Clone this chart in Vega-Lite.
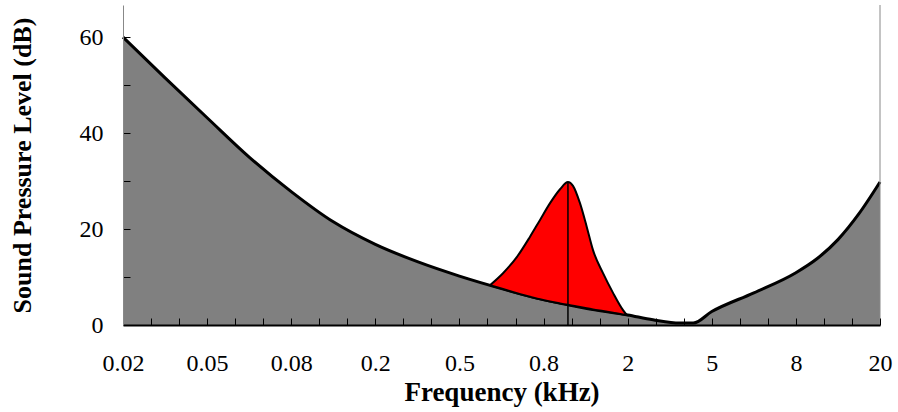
{
  "$schema": "https://vega.github.io/schema/vega-lite/v6.json",
  "width": 757,
  "height": 320,
  "autosize": {"type": "none"},
  "padding": {"left": 123, "top": 5, "right": 18, "bottom": 87},
  "background": "white",
  "config": {
    "view": {"stroke": null},
    "axis": {"labelFont": "Liberation Serif", "titleFont": "Liberation Serif", "grid": false, "labelColor": "black", "titleColor": "black", "labelOverlap": false, "tickColor": "black", "tickWidth": 1, "tickSize": -7, "titleFontWeight": "bold", "labelFontSize": 24},
    "axisX": {"labelPadding": 33, "labelFlush": false, "domainColor": "black", "domainWidth": 2, "titleFontSize": 27, "titlePadding": 4},
    "axisY": {"labelPadding": 27, "domainColor": "#888888", "domainWidth": 1, "titleFontSize": 26, "titlePadding": 44}
  },
  "datasets": {
    "lower": [
      {"pos": 0, "level": 60},
      {"pos": 0.5, "level": 51.5},
      {"pos": 1, "level": 43.2},
      {"pos": 1.5, "level": 35.0},
      {"pos": 2, "level": 27.8},
      {"pos": 2.5, "level": 21.5},
      {"pos": 3, "level": 16.8},
      {"pos": 3.5, "level": 13.2},
      {"pos": 4, "level": 10.2},
      {"pos": 4.5, "level": 7.6},
      {"pos": 5, "level": 5.3},
      {"pos": 5.5, "level": 3.5},
      {"pos": 6, "level": 2.1},
      {"pos": 6.3, "level": 1.1},
      {"pos": 6.62, "level": 0.4},
      {"pos": 6.78, "level": 0.4},
      {"pos": 7, "level": 2.8},
      {"pos": 7.5, "level": 6.7},
      {"pos": 8, "level": 10.9},
      {"pos": 8.25, "level": 13.8},
      {"pos": 8.5, "level": 17.8},
      {"pos": 8.75, "level": 23.2},
      {"pos": 9, "level": 29.8}
    ],
    "peak": [
      {"pos": 4.363, "upper": 8.3, "lower": 8.3},
      {"pos": 4.518, "upper": 10.8, "lower": 7.5},
      {"pos": 4.684, "upper": 14.2, "lower": 6.6},
      {"pos": 4.839, "upper": 18.4, "lower": 5.9},
      {"pos": 4.958, "upper": 21.9, "lower": 5.35},
      {"pos": 5.077, "upper": 25.4, "lower": 4.9},
      {"pos": 5.196, "upper": 28.3, "lower": 4.5},
      {"pos": 5.29, "upper": 29.8, "lower": 4.2},
      {"pos": 5.35, "upper": 29.0, "lower": 4.0},
      {"pos": 5.433, "upper": 25.4, "lower": 3.75},
      {"pos": 5.513, "upper": 20.5, "lower": 3.5},
      {"pos": 5.588, "upper": 15.6, "lower": 3.25},
      {"pos": 5.707, "upper": 10.8, "lower": 2.9},
      {"pos": 5.826, "upper": 6.7, "lower": 2.55},
      {"pos": 5.945, "upper": 3.1, "lower": 2.2},
      {"pos": 5.989, "upper": 2.1, "lower": 2.1}
    ],
    "marker": [{"pos": 5.29, "level": 29.8, "base": 0}],
    "edge": [{"pos": 9, "level": 66.7, "base": 0}]
  },
  "layer": [
    {
      "data": {"name": "lower"},
      "mark": {"type": "area", "color": "#808080", "interpolate": "monotone"},
      "encoding": {
        "x": {
          "field": "pos",
          "type": "quantitative",
          "title": "Frequency (kHz)",
          "scale": {"domain": [0, 9], "nice": false, "zero": false},
          "axis": {
            "values": [0, 0.3333, 0.6667, 1, 1.3333, 1.6667, 2, 2.3333, 2.6667, 3, 3.3333, 3.6667, 4, 4.3333, 4.6667, 5, 5.3333, 5.6667, 6, 6.3333, 6.6667, 7, 7.3333, 7.6667, 8, 8.3333, 8.6667, 9],
            "tickCount": 40,
            "labelExpr": "datum.value % 1 == 0 ? ['0.02','0.05','0.08','0.2','0.5','0.8','2','5','8','20'][datum.value] : ''",
            "labelOverlap": false,
            "zindex": 1
          }
        },
        "y": {
          "field": "level",
          "type": "quantitative",
          "title": "Sound Pressure Level (dB)",
          "scale": {"domain": [0, 66.7], "nice": false},
          "axis": {
            "values": [0, 10, 20, 30, 40, 50, 60],
            "tickCount": 10,
            "labelExpr": "datum.value % 20 == 0 ? datum.label : ''",
            "labelOverlap": false,
            "zindex": 1
          }
        }
      }
    },
    {
      "data": {"name": "lower"},
      "mark": {"type": "line", "color": "black", "strokeWidth": 3, "interpolate": "monotone"},
      "encoding": {
        "x": {"field": "pos", "type": "quantitative", "title": "Frequency (kHz)"},
        "y": {"field": "level", "type": "quantitative", "title": "Sound Pressure Level (dB)"}
      }
    },
    {
      "data": {"name": "peak"},
      "mark": {"type": "area", "color": "#ff0000", "stroke": "black", "strokeWidth": 2, "interpolate": "monotone"},
      "encoding": {
        "x": {"field": "pos", "type": "quantitative", "title": "Frequency (kHz)"},
        "y": {"field": "upper", "type": "quantitative", "title": "Sound Pressure Level (dB)"},
        "y2": {"field": "lower"}
      }
    },
    {
      "data": {"name": "marker"},
      "mark": {"type": "rule", "color": "black", "strokeWidth": 1.5},
      "encoding": {
        "x": {"field": "pos", "type": "quantitative", "title": "Frequency (kHz)"},
        "y": {"field": "level", "type": "quantitative", "title": "Sound Pressure Level (dB)"},
        "y2": {"field": "base"}
      }
    },
    {
      "data": {"name": "edge"},
      "mark": {"type": "rule", "color": "#888888", "strokeWidth": 1},
      "encoding": {
        "x": {"field": "pos", "type": "quantitative", "title": "Frequency (kHz)"},
        "y": {"field": "level", "type": "quantitative", "title": "Sound Pressure Level (dB)"},
        "y2": {"field": "base"}
      }
    }
  ]
}
